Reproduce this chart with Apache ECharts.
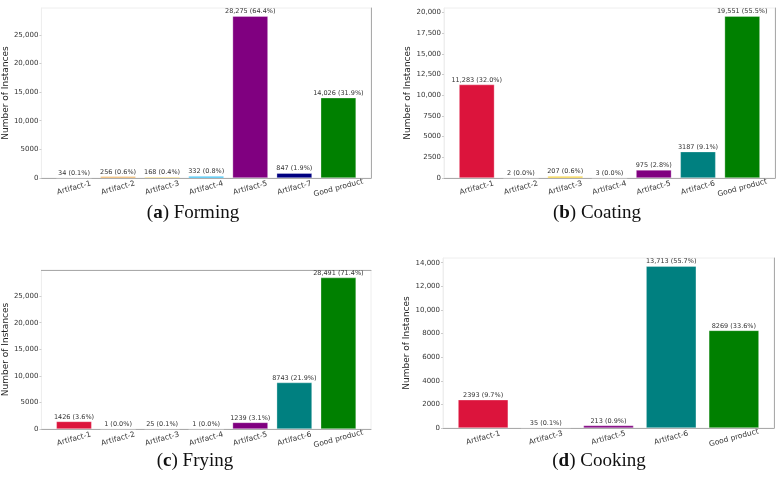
<!DOCTYPE html>
<html>
<head>
<meta charset="utf-8">
<script src="https://cdn.jsdelivr.net/npm/echarts@6/dist/echarts.min.js"></script>
<style>
  html, body { margin: 0; padding: 0; background: #fff; }
  #main { width: 783px; height: 487px; }
</style>
</head>
<body>
<div id="main"></div>
<script>
// data per process step
const formingCats = ["Artifact-1", "Artifact-2", "Artifact-3", "Artifact-4", "Artifact-5", "Artifact-7", "Good product"];
const formingVals = [34, 256, 168, 332, 28275, 847, 14026];
const formingTicks = [0, 5000, 10000, 15000, 20000, 25000];

const coatingCats = ["Artifact-1", "Artifact-2", "Artifact-3", "Artifact-4", "Artifact-5", "Artifact-6", "Good product"];
const coatingVals = [11283, 2, 207, 3, 975, 3187, 19551];
const coatingTicks = [0, 2500, 5000, 7500, 10000, 12500, 15000, 17500, 20000];

const fryingCats = ["Artifact-1", "Artifact-2", "Artifact-3", "Artifact-4", "Artifact-5", "Artifact-6", "Good product"];
const fryingVals = [1426, 1, 25, 1, 1239, 8743, 28491];
const fryingTicks = [0, 5000, 10000, 15000, 20000, 25000];

const cookingCats = ["Artifact-1", "Artifact-3", "Artifact-5", "Artifact-6", "Good product"];
const cookingVals = [2393, 35, 213, 13713, 8269];
const cookingTicks = [0, 2000, 4000, 6000, 8000, 10000, 12000, 14000];

const colorOf = {
  "Artifact-1": "#DC143C",
  "Artifact-2": "#E8901A",
  "Artifact-3": "#F2C200",
  "Artifact-4": "#00AEEF",
  "Artifact-5": "#800080",
  "Artifact-6": "#008080",
  "Artifact-7": "#000080",
  "Good product": "#008000"
};

function fmt(v) {
  return v >= 10000 ? v.toLocaleString("en-US") : String(v);
}

let grids = [], xAxes = [], yAxes = [], series = [];

function addPanel(cats, vals, ticks, box, frameTop) {
  let gi = grids.length;
  let n = cats.length;
  let pad = 0.4 + 0.05 * (n - 0.2);
  let total = vals.reduce((a, b) => a + b, 0);
  let ymax = Math.max.apply(null, vals) * 1.05;
  let idx = cats.map((c, i) => i);

  grids.push({ left: box[0], top: box[1], width: box[2], height: box[3],
    show: true, borderColor: "#eeeeee", borderWidth: 1 });

  xAxes.push({
    type: "value", gridIndex: gi, min: -pad, max: n - 1 + pad,
    splitLine: { show: false },
    axisLine: { show: true, onZero: false, lineStyle: { color: "#aaaaaa" } },
    axisTick: { show: false },
    axisLabel: {
      customValues: idx,
      formatter: v => cats[Math.round(v)],
      rotate: 15, align: "center", margin: 10,
      fontSize: 7.5, color: "#333", fontFamily: "DejaVu Sans"
    }
  });
  yAxes.push({
    type: "value", gridIndex: gi, min: 0, max: ymax,
    name: "Number of Instances", nameLocation: "middle", nameGap: 25,
    nameTextStyle: { fontSize: 9, color: "#222", fontFamily: "DejaVu Sans" },
    splitLine: { show: false },
    axisLine: { show: true, onZero: false, lineStyle: { color: "#eeeeee" } },
    axisTick: { show: true, length: 2, customValues: ticks, lineStyle: { color: "#cccccc" } },
    axisLabel: {
      customValues: ticks, formatter: v => fmt(v), margin: 3,
      fontSize: 7, color: "#333", fontFamily: "DejaVu Sans"
    }
  });
  // darker spine on one more side
  if (frameTop) {
    xAxes.push({ type: "value", gridIndex: gi, position: "top", min: 0, max: 1,
      axisLine: { show: true, onZero: false, lineStyle: { color: "#aaaaaa" } },
      axisTick: { show: false }, axisLabel: { show: false }, splitLine: { show: false } });
  } else {
    yAxes.push({ type: "value", gridIndex: gi, position: "right", min: 0, max: 1,
      axisLine: { show: true, onZero: false, lineStyle: { color: "#aaaaaa" } },
      axisTick: { show: false }, axisLabel: { show: false }, splitLine: { show: false } });
  }
  let xi = xAxes.findIndex(a => a.gridIndex === gi);
  let yi = yAxes.findIndex(a => a.gridIndex === gi);

  series.push({
    type: "bar", xAxisIndex: xi, yAxisIndex: yi,
    barWidth: box[2] / (n - 1 + 2 * pad) * 0.8,
    data: vals.map((v, i) => ({ value: [i, v], itemStyle: { color: colorOf[cats[i]] } })),
    itemStyle: { borderColor: "rgba(255,255,255,0.5)", borderWidth: 0.6 },
    label: {
      show: true, position: "top", distance: 1,
      fontSize: 6.5, color: "#333", fontFamily: "DejaVu Sans",
      formatter: p => fmt(p.value[1]) + " (" + (p.value[1] / total * 100).toFixed(1) + "%)"
    },
    animation: false
  });
}

addPanel(formingCats, formingVals, formingTicks, [40, 8, 331, 170], false);
addPanel(coatingCats, coatingVals, coatingTicks, [444, 8, 331, 170], false);
addPanel(fryingCats, fryingVals, fryingTicks, [40, 270, 331, 159], true);
addPanel(cookingCats, cookingVals, cookingTicks, [443, 258, 331, 170], false);

function caption(letter, word, x, y) {
  return {
    text: "{n|(}{b|" + letter + "}{n|) " + word + "}",
    left: x, top: y, textAlign: "center",
    textStyle: {
      fontWeight: "normal",
      rich: {
        n: { fontFamily: "Liberation Serif", fontSize: 19, fontWeight: "normal", color: "#111" },
        b: { fontFamily: "Liberation Serif", fontSize: 19, fontWeight: "bold", color: "#111" }
      }
    }
  };
}

let myChart = echarts.init(document.getElementById("main"));
myChart.setOption({
  animation: false,
  title: [
    caption("a", "Forming", 188, 199),
    caption("b", "Coating", 592, 199),
    caption("c", "Frying", 190, 447),
    caption("d", "Cooking", 594, 447)
  ],
  grid: grids,
  xAxis: xAxes,
  yAxis: yAxes,
  series: series
});
</script>
</body>
</html>
